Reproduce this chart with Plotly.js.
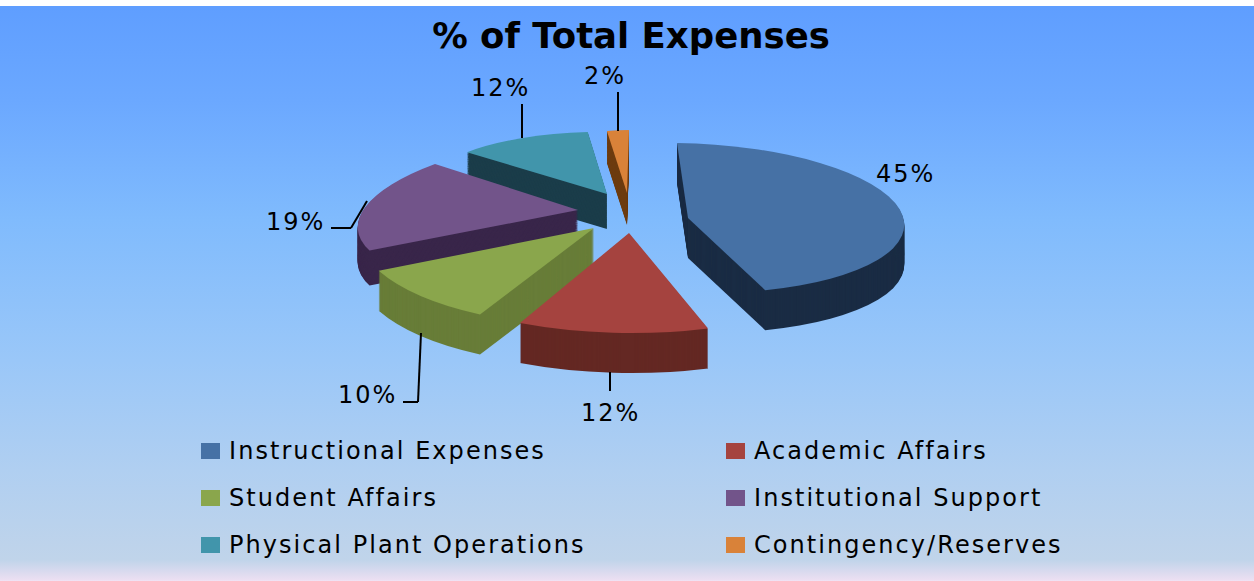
<!DOCTYPE html>
<html>
<head>
<meta charset="utf-8">
<script src="https://cdn.plot.ly/plotly-3.0.1.min.js"></script>
<style>
html,body{margin:0;padding:0;background:#fff;overflow:hidden}
#chart{position:absolute;left:0;top:0;width:1254px;height:581px;
background:linear-gradient(to bottom,#fff 0,#fff 6px,#5f9eff 6px,#6ba8ff 100px,#80bbfd 220px,#9ac7f8 360px,#b0cff1 470px,#c0d4ea 560px,#ecdff2 580px,#f2e4f5 581px)}
.legendtext{letter-spacing:2.05px}
.annotation-text{letter-spacing:2px}
</style>
</head>
<body>
<div id="chart"></div>
<script>
// ---- data ----
const categories = ["Instructional Expenses","Academic Affairs","Student Affairs","Institutional Support","Physical Plant Operations","Contingency/Reserves"];
const percentages = [45,12,10,19,12,2];
const topColors  = ["#4671a5","#a5433f","#8aa64c","#72548a","#4195ab","#d98239"];
const wallColors = ["#1a2c44","#642823","#687d38","#39264a","#1b3d4a","#6d3c10"];

// ---- look ----
const W = 1254, H = 581, FONT = '"DejaVu Sans", Verdana, sans-serif';
const px = x => x / W, py = y => 1 - y / H;
// one projected ellipse per exploded slice: centre, x-radius vector, y-radius vector, wall depth
const projection = [
  {c:[688,218], u:[216,3],  v:[11,75],   depth:40},
  {c:[629,233], u:[256,1],  v:[0,100],   depth:40},
  {c:[594,228], u:[238,5],  v:[-14,98],  depth:40},
  {c:[578,210], u:[217,-4], v:[-38,77],  depth:35},
  {c:[607,194], u:[185,3],  v:[-4,62],   depth:35},
  {c:[627,193], u:[176,-4], v:[-2,63],   depth:32}
];
const paintOrder = [4,5,3,2,0,1];
const LAYERS = 40;
const labelPos = [[905,174],[610,413],[367,395],[295,222],[501,88],[605,76]];
const leaders = [
  [[610,372],[610,391]],
  [[421,333],[418,402],[403,402]],
  [[367,201],[351,228],[331,228]],
  [[522,138],[522,104]],
  [[618,131],[618,92]]
];
const legendCols = [201,726], legendRows = [451,498,545];

const common = {type:"pie", values:percentages, labels:categories, sort:false, direction:"clockwise",
  rotation:0, textinfo:"none", hoverinfo:"label+percent", domain:{x:[0,1],y:[0,1]}};
const traces = [];
for (let i = LAYERS; i >= 1; i--) {
  traces.push(Object.assign({}, common, {showlegend:false, marker:{colors:wallColors, line:{width:0}}}));
}
traces.push(Object.assign({}, common, {showlegend:true, marker:{colors:topColors, line:{width:0}}}));

const shapes = [];
leaders.forEach(pts => {
  for (let i = 0; i < pts.length - 1; i++) {
    shapes.push({type:"line", xref:"paper", yref:"paper", layer:"above",
      x0:px(pts[i][0]), y0:py(pts[i][1]), x1:px(pts[i+1][0]), y1:py(pts[i+1][1]),
      line:{color:"#000", width:2}});
  }
});
const annotations = percentages.map((v,i) => ({
  text:v+"%", xref:"paper", yref:"paper", x:px(labelPos[i][0]), y:py(labelPos[i][1]),
  xanchor:"center", yanchor:"middle", showarrow:false, font:{family:FONT,size:24,color:"#000"}
}));

const layout = {
  width:W, height:H, margin:{l:0,r:0,t:0,b:0},
  paper_bgcolor:"rgba(0,0,0,0)", plot_bgcolor:"rgba(0,0,0,0)",
  title:{text:"% of Total Expenses", x:px(631), y:py(36), xref:"paper", yref:"paper",
    xanchor:"center", yanchor:"middle", font:{family:FONT,size:35.5,weight:700,color:"#000"}},
  showlegend:true,
  legend:{orientation:"h", x:0.5, y:0.5, xanchor:"center", yanchor:"middle", bgcolor:"rgba(0,0,0,0)", font:{family:FONT,size:24,color:"#000"}},
  shapes, annotations
};

const gd = document.getElementById("chart");
Plotly.newPlot(gd, traces, layout, {displayModeBar:false}).then(() => {
  const sliceMatrix = (cd, k, dy) => {
    const p = projection[k], r = cd.r, cx = cd.cx, cy = cd.cy;
    const a = p.u[0]/r, b = p.u[1]/r, c = p.v[0]/r, d = p.v[1]/r;
    const e = p.c[0] - a*cx - c*cy, f = p.c[1] + dy - b*cx - d*cy;
    return `matrix(${a},${b},${c},${d},${e},${f})`;
  };
  const groups = [...gd.querySelectorAll(".pielayer .trace")];
  const host = groups[groups.length-1];
  const bySlice = percentages.map(() => []);
  groups.forEach((g,t) => {
    const cd = gd.calcdata[t][0];
    const dyFrac = (LAYERS - t) / LAYERS;
    g.querySelectorAll(".slice").forEach(s => {
      const k = s.__data__.i;
      s.setAttribute("transform", sliceMatrix(cd, k, dyFrac * projection[k].depth));
      bySlice[k].push(s);
    });
  });
  paintOrder.forEach(k => bySlice[k].forEach(s => host.appendChild(s)));

  // lay the legend out as the two-column block of the reference
  const legend = gd.querySelector(".legend");
  legend.setAttribute("transform","translate(0,0)");
  legend.style.clipPath = "none";
  legend.querySelectorAll("[clip-path]").forEach(n => n.removeAttribute("clip-path"));
  legend.removeAttribute("clip-path");
  const box = legend.querySelector(".scrollbox");
  if (box) { box.setAttribute("transform","translate(0,0)"); box.removeAttribute("clip-path"); }
  const bg = legend.querySelector(".bg"); if (bg) bg.style.display = "none";
  legend.querySelectorAll(".traces").forEach(tr => {
    const txt = tr.querySelector(".legendtext");
    const i = categories.indexOf(txt.textContent);
    tr.setAttribute("transform",`translate(${legendCols[i%2]},${legendRows[Math.floor(i/2)]})`);
    txt.setAttribute("x", 28);
    txt.setAttribute("y", 8);
    const sw = tr.querySelector(".legendpie");
    sw.setAttribute("transform","translate(9.5,0)");
    sw.setAttribute("d","M9.5,8H-9.5V-8H9.5Z");
    sw.style.fill = topColors[i];
    sw.style.strokeWidth = "0";
  });
});
</script>
</body>
</html>
